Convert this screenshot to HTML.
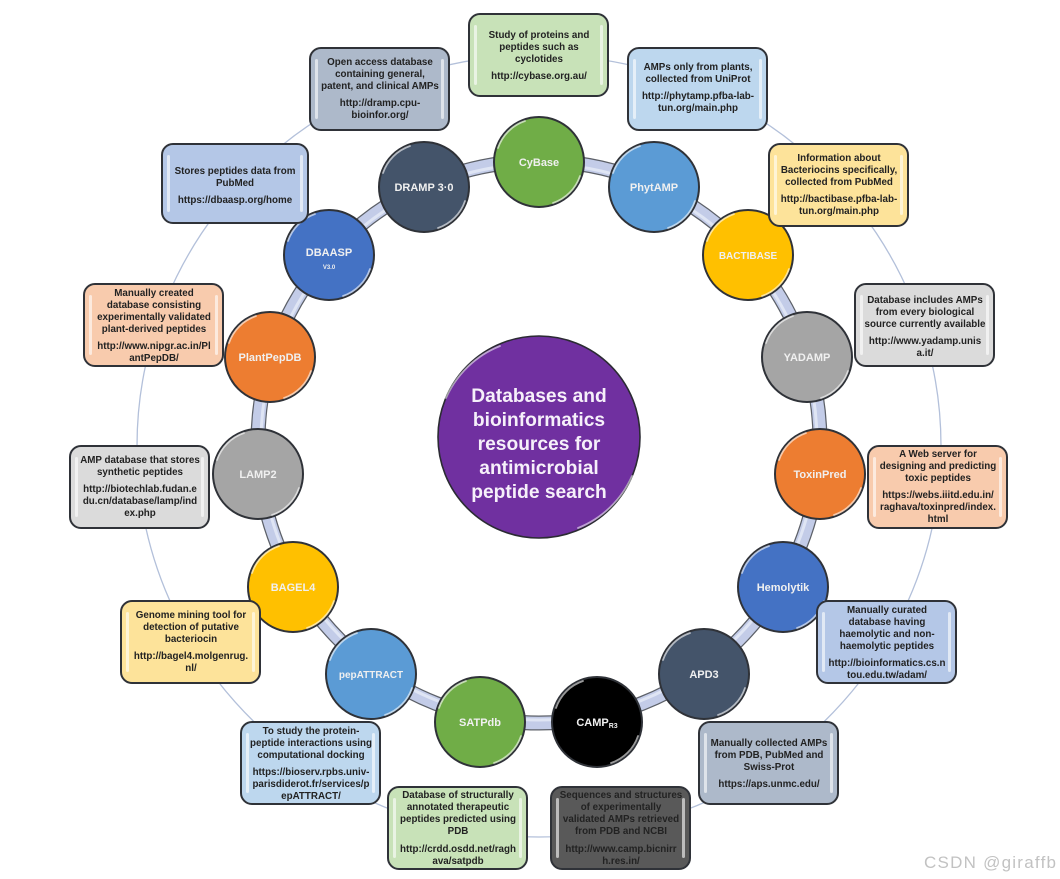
<!DOCTYPE html>
<html><head><meta charset="utf-8"><style>
html,body{margin:0;padding:0;background:#fff}
svg{display:block;filter:blur(.35px)}
.b text{font:bold 9.8px "Liberation Sans",sans-serif;fill:#222;text-anchor:middle}
.n{font:bold 11px "Liberation Sans",sans-serif;fill:#f0f0f0;text-anchor:middle}
.c{font:bold 19.2px "Liberation Sans",sans-serif;fill:#f6f0fa;text-anchor:middle}
</style></head><body>
<svg width="1060" height="879" viewBox="0 0 1060 879" xmlns="http://www.w3.org/2000/svg">
<defs>
<g id="hl" fill="none" stroke="#fff" stroke-linecap="round">
<path d="M-41-14A43 43 0 0 1-14-41" stroke-width="1.800" stroke-opacity=".6"/>
<path d="M41 14A43 43 0 0 1 14 41" stroke-width="1.800" stroke-opacity=".6"/>
</g>
<g id="bars" fill="#fff" fill-opacity=".6">
<rect x="5" y="11" width="3" height="60" rx="1.500"/>
<rect x="131" y="11" width="3" height="60" rx="1.500"/>
</g>
</defs>
<ellipse cx="539" cy="446" rx="402" ry="391" fill="none" stroke="#b3c0da" stroke-width="1.300"/>
<circle cx="539" cy="442" r="281" fill="none" stroke="#5c6068" stroke-width="15"/>
<circle cx="539" cy="442" r="281" fill="none" stroke="#c3cce8" stroke-width="12.500"/>
<circle cx="539" cy="442" r="278" fill="none" stroke="#dfe5f4" stroke-width="3"/>

<g stroke="#2f3238" stroke-width="2">
<circle cx="539" cy="162" r="45" fill="#70ad47"/>
<circle cx="654" cy="187" r="45" fill="#5b9bd5"/>
<circle cx="748" cy="255" r="45" fill="#ffc000"/>
<circle cx="807" cy="357" r="45" fill="#a5a5a5"/>
<circle cx="820" cy="474" r="45" fill="#ed7d31"/>
<circle cx="783" cy="587" r="45" fill="#4472c4"/>
<circle cx="704" cy="674" r="45" fill="#44546a"/>
<circle cx="597" cy="722" r="45" fill="#000"/>
<circle cx="480" cy="722" r="45" fill="#70ad47"/>
<circle cx="371" cy="674" r="45" fill="#5b9bd5"/>
<circle cx="293" cy="587" r="45" fill="#ffc000"/>
<circle cx="258" cy="474" r="45" fill="#a5a5a5"/>
<circle cx="270" cy="357" r="45" fill="#ed7d31"/>
<circle cx="329" cy="255" r="45" fill="#4472c4"/>
<circle cx="424" cy="187" r="45" fill="#44546a"/>
</g>
<use href="#hl" x="539" y="162"/><use href="#hl" x="654" y="187"/><use href="#hl" x="748" y="255"/><use href="#hl" x="807" y="357"/><use href="#hl" x="820" y="474"/><use href="#hl" x="783" y="587"/><use href="#hl" x="704" y="674"/><use href="#hl" x="597" y="722"/><use href="#hl" x="480" y="722"/><use href="#hl" x="371" y="674"/><use href="#hl" x="293" y="587"/><use href="#hl" x="258" y="474"/><use href="#hl" x="270" y="357"/><use href="#hl" x="329" y="255"/><use href="#hl" x="424" y="187"/>

<text class="n" x="539" y="166">CyBase</text>
<text class="n" x="654" y="191">PhytAMP</text>
<text class="n" x="748" y="259" style="font-size:10px">BACTIBASE</text>
<text class="n" x="807" y="361">YADAMP</text>
<text class="n" x="820" y="478">ToxinPred</text>
<text class="n" x="783" y="591">Hemolytik</text>
<text class="n" x="704" y="678">APD3</text>
<text class="n" x="597" y="726">CAMP<tspan font-size="7" dy="2">R3</tspan></text>
<text class="n" x="480" y="726">SATPdb</text>
<text class="n" x="371" y="678" style="font-size:10px">pepATTRACT</text>
<text class="n" x="293" y="591">BAGEL4</text>
<text class="n" x="258" y="478">LAMP2</text>
<text class="n" x="270" y="361">PlantPepDB</text>
<text class="n" x="329" y="256">DBAASP</text>
<text class="n" x="329" y="269" style="font-size:6px">V3.0</text>
<text class="n" x="424" y="191">DRAMP 3·0</text>

<circle cx="539" cy="437" r="101" fill="#7030a0" stroke="#2b2b33" stroke-width="1.600"/>
<path d="M446 398A99 99 0 0 1 500 346M632 476A99 99 0 0 1 578 528" fill="none" stroke="#fff" stroke-opacity=".55" stroke-width="1.800" stroke-linecap="round"/>
<text class="c" x="539" y="402">Databases and</text>
<text class="c" x="539" y="426">bioinformatics</text>
<text class="c" x="539" y="450">resources for</text>
<text class="c" x="539" y="474">antimicrobial</text>
<text class="c" x="539" y="498">peptide search</text>

<g class="b" stroke-width="2">
<g transform="translate(469,14)"><rect width="139" height="82" rx="11" fill="#c8e2b8" stroke="#2f3238"/><use href="#bars"/>
<text x="70" y="24">Study of proteins and</text><text x="70" y="36">peptides such as</text><text x="70" y="48">cyclotides</text><text x="70" y="65">http://cybase.org.au/</text></g>

<g transform="translate(310,48)"><rect width="139" height="82" rx="11" fill="#adb9ca" stroke="#2f3238"/><use href="#bars"/>
<text x="70" y="17">Open access database</text><text x="70" y="29">containing general,</text><text x="70" y="41">patent, and clinical AMPs</text><text x="70" y="58">http://dramp.cpu-</text><text x="70" y="70">bioinfor.org/</text></g>

<g transform="translate(628,48)"><rect width="139" height="82" rx="11" fill="#bdd7ee" stroke="#2f3238"/><use href="#bars"/>
<text x="70" y="22">AMPs only from plants,</text><text x="70" y="34">collected from UniProt</text><text x="70" y="51">http://phytamp.pfba-lab-</text><text x="70" y="63">tun.org/main.php</text></g>

<g transform="translate(162,144)"><rect width="146" height="79" rx="11" fill="#b4c7e7" stroke="#2f3238"/><rect x="5" y="11" width="3" height="57" rx="1.500" fill="#fff" fill-opacity=".6"/><rect x="138" y="11" width="3" height="57" rx="1.500" fill="#fff" fill-opacity=".6"/>
<text x="73" y="30">Stores peptides data from</text><text x="73" y="42">PubMed</text><text x="73" y="59">https://dbaasp.org/home</text></g>

<g transform="translate(769,144)"><rect width="139" height="82" rx="11" fill="#fde39a" stroke="#2f3238"/><use href="#bars"/>
<text x="70" y="17">Information about</text><text x="70" y="29">Bacteriocins specifically,</text><text x="70" y="41">collected from PubMed</text><text x="70" y="58">http://bactibase.pfba-lab-</text><text x="70" y="70">tun.org/main.php</text></g>

<g transform="translate(84,284)"><rect width="139" height="82" rx="11" fill="#f8cbad" stroke="#2f3238"/><use href="#bars"/>
<text x="70" y="12">Manually created</text><text x="70" y="24">database consisting</text><text x="70" y="36">experimentally validated</text><text x="70" y="48">plant-derived peptides</text><text x="70" y="65">http://www.nipgr.ac.in/Pl</text><text x="70" y="77">antPepDB/</text></g>

<g transform="translate(855,284)"><rect width="139" height="82" rx="11" fill="#dbdbdb" stroke="#2f3238"/><use href="#bars"/>
<text x="70" y="19">Database includes AMPs</text><text x="70" y="31">from every biological</text><text x="70" y="43">source currently available</text><text x="70" y="60">http://www.yadamp.unis</text><text x="70" y="72">a.it/</text></g>

<g transform="translate(70,446)"><rect width="139" height="82" rx="11" fill="#dbdbdb" stroke="#2f3238"/><use href="#bars"/>
<text x="70" y="17">AMP database that stores</text><text x="70" y="29">synthetic peptides</text><text x="70" y="46">http://biotechlab.fudan.e</text><text x="70" y="58">du.cn/database/lamp/ind</text><text x="70" y="70">ex.php</text></g>

<g transform="translate(868,446)"><rect width="139" height="82" rx="11" fill="#f8cbad" stroke="#2f3238"/><use href="#bars"/>
<text x="70" y="11">A Web server for</text><text x="70" y="23">designing and predicting</text><text x="70" y="35">toxic peptides</text><text x="70" y="52">https://webs.iiitd.edu.in/</text><text x="70" y="64">raghava/toxinpred/index.</text><text x="70" y="76">html</text></g>

<g transform="translate(121,601)"><rect width="139" height="82" rx="11" fill="#fde39a" stroke="#2f3238"/><use href="#bars"/>
<text x="70" y="17">Genome mining tool for</text><text x="70" y="29">detection of putative</text><text x="70" y="41">bacteriocin</text><text x="70" y="58">http://bagel4.molgenrug.</text><text x="70" y="70">nl/</text></g>

<g transform="translate(817,601)"><rect width="139" height="82" rx="11" fill="#b4c7e7" stroke="#2f3238"/><use href="#bars"/>
<text x="70" y="12">Manually curated</text><text x="70" y="24">database having</text><text x="70" y="36">haemolytic and non-</text><text x="70" y="48">haemolytic peptides</text><text x="70" y="65">http://bioinformatics.cs.n</text><text x="70" y="77">tou.edu.tw/adam/</text></g>

<g transform="translate(241,722)"><rect width="139" height="82" rx="11" fill="#bdd7ee" stroke="#2f3238"/><use href="#bars"/>
<text x="70" y="12">To study the protein-</text><text x="70" y="24">peptide interactions using</text><text x="70" y="36">computational docking</text><text x="70" y="53">https://bioserv.rpbs.univ-</text><text x="70" y="65">parisdiderot.fr/services/p</text><text x="70" y="77">epATTRACT/</text></g>

<g transform="translate(699,722)"><rect width="139" height="82" rx="11" fill="#adb9ca" stroke="#2f3238"/><use href="#bars"/>
<text x="70" y="24">Manually collected AMPs</text><text x="70" y="36">from PDB, PubMed and</text><text x="70" y="48">Swiss-Prot</text><text x="70" y="65">https://aps.unmc.edu/</text></g>

<g transform="translate(388,787)"><rect width="139" height="82" rx="11" fill="#c8e2b8" stroke="#2f3238"/><use href="#bars"/>
<text x="70" y="11">Database of structurally</text><text x="70" y="23">annotated therapeutic</text><text x="70" y="35">peptides predicted using</text><text x="70" y="47">PDB</text><text x="70" y="65">http://crdd.osdd.net/ragh</text><text x="70" y="77">ava/satpdb</text></g>

<g transform="translate(551,787)"><rect width="139" height="82" rx="11" fill="#595959" stroke="#2f3238"/><use href="#bars"/>
<text x="70" y="11">Sequences and structures</text><text x="70" y="23">of experimentally</text><text x="70" y="35">validated AMPs retrieved</text><text x="70" y="47">from PDB and NCBI</text><text x="70" y="65">http://www.camp.bicnirr</text><text x="70" y="77">h.res.in/</text></g>
</g>

<text x="924" y="868" textLength="132" style="font:17px 'Liberation Sans',sans-serif;fill:#c2c2c2">CSDN @giraffb</text>
</svg>
</body></html>
